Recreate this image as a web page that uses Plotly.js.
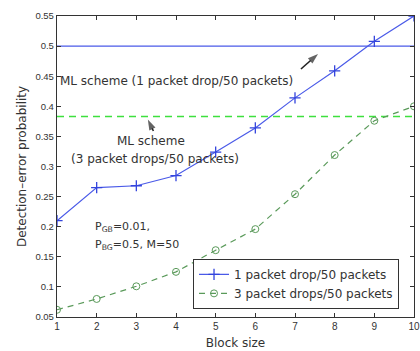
<!DOCTYPE html>
<html><head><meta charset="utf-8">
<script src="https://cdn.plot.ly/plotly-3.0.1.min.js"></script>
<style>body{margin:0;background:#fff}#c{width:420px;height:351px}</style>
</head><body><div id="c"></div>
<script>
const blockSize = [1,2,3,4,5,6,7,8,9,10];
const onePacket = [0.21,0.265,0.268,0.285,0.324,0.364,0.414,0.459,0.508,0.55];
const threePackets = [0.062,0.08,0.101,0.125,0.161,0.196,0.254,0.319,0.376,0.40];
const mlOne = [0.5,0.5];
const mlThree = [0.383,0.383];
const mlX = [1,10];
const yTicks = [0.05,0.1,0.15,0.2,0.25,0.3,0.35,0.4,0.45,0.5,0.55];
const yTickText = ['0.05','0.1','0.15','0.2','0.25','0.3','0.35','0.4','0.45','0.5','0.55'];
// annotation arrows (tail -> tip), in data units
const arrow1X = [7.15, 7.58];
const arrow1Y = [0.462, 0.487];
const arrow2X = [3.43, 3.29];
const arrow2Y = [0.359, 0.378];

const F = 'DejaVu Sans, sans-serif';
const arrowTrace = (xs, ys) => ({x: xs, y: ys, mode:'lines+markers', showlegend:false, hoverinfo:'skip',
  line:{color:'#222', width:1.6},
  marker:{symbol:['circle','arrow'], size:[0,11], color:'#222', angleref:'previous', line:{width:0}}});
const traces = [
  {x: mlX, y: mlOne, mode:'lines', line:{color:'#4a5ae8', width:1.2}, showlegend:false, hoverinfo:'skip'},
  {x: mlX, y: mlThree, mode:'lines', line:{color:'#3ee03e', width:1.5, dash:'7px,5px'}, showlegend:false, hoverinfo:'skip'},
  {x: blockSize, y: onePacket, mode:'lines+markers', name:'1 packet drop/50 packets',
   line:{color:'#4a5ae8', width:1.2}, marker:{symbol:'cross-thin', size:8, line:{color:'#3344dd', width:1.3}}},
  {x: blockSize, y: threePackets, mode:'lines+markers', name:'3 packet drops/50 packets',
   line:{color:'#5a9a5a', width:1.2, dash:'6px,5px'}, marker:{symbol:'circle-open', size:7, color:'#5a9a5a', line:{width:1}}},
  arrowTrace(arrow1X, arrow1Y),
  arrowTrace(arrow2X, arrow2Y)
];
const layout = {
  width:420, height:351,
  margin:{l:57, r:6, t:16, b:34},
  paper_bgcolor:'#fff', plot_bgcolor:'#fff',
  font:{family:F, size:12, color:'#333'},
  xaxis:{range:[1,10], tickvals:blockSize, ticks:'inside', ticklen:4, tickcolor:'#333',
    tickfont:{family:'Liberation Sans, Arial, sans-serif', size:10},
    showline:true, mirror:'ticks', linecolor:'#333', linewidth:1.2, showgrid:false, zeroline:false,
    title:{text:'Block size', font:{size:12}, standoff:7}},
  yaxis:{range:[0.05,0.55], tickvals:yTicks, ticktext:yTickText, ticks:'inside', ticklen:4, tickcolor:'#333',
    tickfont:{family:'Liberation Sans, Arial, sans-serif', size:9.5},
    showline:true, mirror:'ticks', linecolor:'#333', linewidth:1.2, showgrid:false, zeroline:false,
    title:{text:'Detection\u2013error probability', font:{size:12}, standoff:6}},
  legend:{x:0.381, y:0.027, xanchor:'left', yanchor:'bottom', bgcolor:'#fff', bordercolor:'#333', borderwidth:1,
    font:{size:12}, tracegroupgap:0, itemwidth:30},
  showlegend:true,
  annotations:[
    {x:1.03, y:0.442, xref:'x', yref:'y', xanchor:'left', text:'ML scheme (1 packet drop/50 packets)', showarrow:false},
    {x:3.37, y:0.342, xref:'x', yref:'y', text:'ML scheme', showarrow:false},
    {x:3.47, y:0.312, xref:'x', yref:'y', text:'(3 packet drops/50 packets)', showarrow:false},
    {x:1.91, y:0.1995, xref:'x', yref:'y', xanchor:'left', text:'P<sub>GB</sub>=0.01,', showarrow:false, font:{size:11}},
    {x:1.91, y:0.1696, xref:'x', yref:'y', xanchor:'left', text:'P<sub>BG</sub>=0.5, M=50', showarrow:false, font:{size:11}}
  ]
};
Plotly.newPlot('c', traces, layout, {displayModeBar:false, staticPlot:true});
</script></body></html>
